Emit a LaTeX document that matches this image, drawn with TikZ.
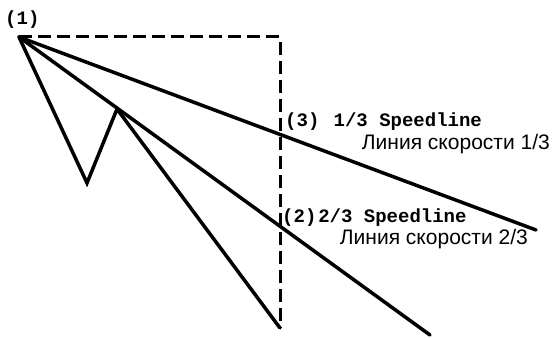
\documentclass[tikz,border=0pt]{standalone}
\usepackage{fontspec}
\setmainfont{Liberation Serif}
\setsansfont{Liberation Sans}
\setmonofont{Liberation Mono}
\usepackage{tikz}
\usetikzlibrary{calc}

\begin{document}
\begin{tikzpicture}[
    x=1pt, y=-1pt,
    line/.style={line width=3.5pt, line cap=round, line join=miter},
    guide/.style={line width=3pt, dash pattern=on 13pt off 6pt},
    num/.style={font=\fontsize{19}{21}\selectfont\ttfamily\bfseries, inner sep=0pt, anchor=west},
    rus/.style={font=\fontsize{21}{23}\selectfont\sffamily, inner sep=0pt, anchor=east}
]
\useasboundingbox (0,0) rectangle (556,337);
\coordinate (apex) at (19,37);
\coordinate (corner) at (280,37);
\coordinate (bottom) at (280,328);
\coordinate (vlow) at (87,183);
\coordinate (vtop) at (117,109);
\coordinate (end13) at (536,230);
\coordinate (end23) at (430,335);
% dashed frame
\draw[guide] (apex) -- (corner) -- (bottom);
% speedlines
\draw[line] (apex) -- (end13);
\draw[line] (apex) -- (end23);
\draw[line] (apex) -- (vlow) -- (vtop) -- (bottom);
% labels
\node[num] (lbl1) at (5,20) {(1)};
\node[num] (lbl3) at (285,122) {(3)\hspace{0.75em}1/3 Speedline};
\node[rus] (rus3) at (550,144) {Линия скорости 1/3};
\node[num] (lbl2) at (282,218) {(2)\hspace{0.1em}2/3 Speedline};
\node[rus] (rus2) at (528,239) {Линия скорости 2/3};
\end{tikzpicture}
\end{document}
